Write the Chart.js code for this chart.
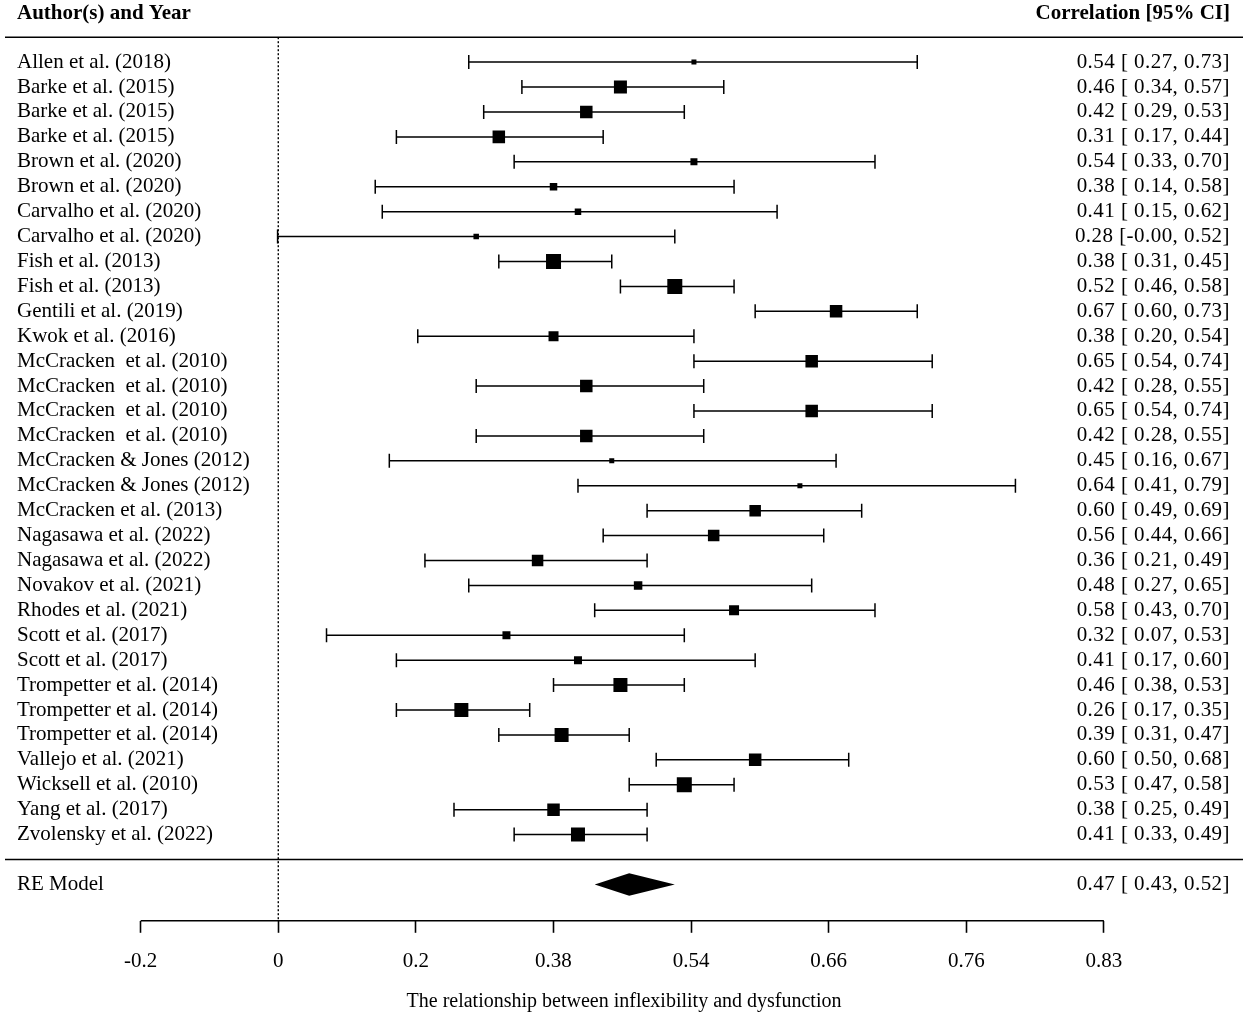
<!DOCTYPE html>
<html>
<head>
<meta charset="utf-8">
<script src="https://cdn.jsdelivr.net/npm/chart.js@4.4.1/dist/chart.umd.min.js"></script>
<style>
  html, body { margin: 0; padding: 0; background: #fff; }
  canvas { display: block; }
</style>
</head>
<body>
<canvas id="forest" width="1248" height="1016"></canvas>
<script>
// study labels, top to bottom
const studies = [
  'Allen et al. (2018)', 'Barke et al. (2015)', 'Barke et al. (2015)', 'Barke et al. (2015)',
  'Brown et al. (2020)', 'Brown et al. (2020)', 'Carvalho et al. (2020)', 'Carvalho et al. (2020)',
  'Fish et al. (2013)', 'Fish et al. (2013)', 'Gentili et al. (2019)', 'Kwok et al. (2016)',
  'McCracken  et al. (2010)', 'McCracken  et al. (2010)', 'McCracken  et al. (2010)', 'McCracken  et al. (2010)',
  'McCracken & Jones (2012)', 'McCracken & Jones (2012)', 'McCracken et al. (2013)', 'Nagasawa et al. (2022)',
  'Nagasawa et al. (2022)', 'Novakov et al. (2021)', 'Rhodes et al. (2021)', 'Scott et al. (2017)',
  'Scott et al. (2017)', 'Trompetter et al. (2014)', 'Trompetter et al. (2014)', 'Trompetter et al. (2014)',
  'Vallejo et al. (2021)', 'Wicksell et al. (2010)', 'Yang et al. (2017)', 'Zvolensky et al. (2022)'
];

// correlations and 95% CI
const estimates = [0.54, 0.46, 0.42, 0.31, 0.54, 0.38, 0.41, 0.28, 0.38, 0.52, 0.67, 0.38, 0.65, 0.42, 0.65, 0.42,
                   0.45, 0.64, 0.60, 0.56, 0.36, 0.48, 0.58, 0.32, 0.41, 0.46, 0.26, 0.39, 0.60, 0.53, 0.38, 0.41];
const ciLower   = [0.27, 0.34, 0.29, 0.17, 0.33, 0.14, 0.15, -0.001, 0.31, 0.46, 0.60, 0.20, 0.54, 0.28, 0.54, 0.28,
                   0.16, 0.41, 0.49, 0.44, 0.21, 0.27, 0.43, 0.07, 0.17, 0.38, 0.17, 0.31, 0.50, 0.47, 0.25, 0.33];
const ciUpper   = [0.73, 0.57, 0.53, 0.44, 0.70, 0.58, 0.62, 0.52, 0.45, 0.58, 0.73, 0.54, 0.74, 0.55, 0.74, 0.55,
                   0.67, 0.79, 0.69, 0.66, 0.49, 0.65, 0.70, 0.53, 0.60, 0.53, 0.35, 0.47, 0.68, 0.58, 0.49, 0.49];
// relative study weights (box size)
const weights   = [1.0, 2.6, 2.5, 2.5, 1.4, 1.5, 1.3, 1.1, 3.0, 3.0, 2.5, 2.0, 2.5, 2.5, 2.5, 2.5,
                   1.0, 1.0, 2.3, 2.3, 2.3, 1.7, 2.0, 1.6, 1.6, 2.8, 2.8, 2.8, 2.5, 3.0, 2.5, 2.8];

// pooled random-effects estimate
const pooledLabel = 'RE Model';
const pooled = [0.47, 0.43, 0.52];

// x axis: fisher z positions and back-transformed labels
const axisTicks = [-0.2, 0, 0.2, 0.4, 0.6, 0.8, 1.0, 1.2];
const axisLabels = ['-0.2', '0', '0.2', '0.38', '0.54', '0.66', '0.76', '0.83'];

const FONT = "'Liberation Serif', 'Times New Roman', serif";
Chart.defaults.font.family = FONT;
Chart.defaults.color = '#000';

const pooledRow = studies.length + 1;

function fmtCI(v) {
  const s = v.toFixed(2);
  return s.charAt(0) === '-' ? s : ' ' + s;
}
function ciText(est, lo, hi) {
  return est.toFixed(2) + ' [' + fmtCI(lo) + ', ' + hi.toFixed(2) + ']';
}

const forestPlugin = {
  id: 'forest',
  beforeDatasetsDraw(chart) {
    const { ctx, chartArea, scales: { x, y } } = chart;
    ctx.save();
    ctx.strokeStyle = '#000';
    ctx.fillStyle = '#000';

    // horizontal rules under header and above pooled row
    ctx.lineWidth = 1.6;
    [-1, studies.length].forEach(row => {
      const py = y.getPixelForValue(row);
      ctx.beginPath();
      ctx.moveTo(chartArea.left, py);
      ctx.lineTo(chartArea.right, py);
      ctx.stroke();
    });

    // dotted reference line at 0
    const x0 = x.getPixelForValue(0);
    ctx.lineWidth = 1.4;
    ctx.setLineDash([2, 2]);
    ctx.beginPath();
    ctx.moveTo(x0, y.getPixelForValue(-1));
    ctx.lineTo(x0, chartArea.bottom);
    ctx.stroke();
    ctx.setLineDash([]);

    // axis line only across tick range
    ctx.lineWidth = 1.6;
    ctx.beginPath();
    ctx.moveTo(x.getPixelForValue(axisTicks[0]), chartArea.bottom);
    ctx.lineTo(x.getPixelForValue(axisTicks[axisTicks.length - 1]), chartArea.bottom);
    ctx.stroke();

    // confidence intervals with end caps
    ctx.lineWidth = 1.5;
    studies.forEach((s, i) => {
      const py = y.getPixelForValue(i);
      const xl = x.getPixelForValue(Math.atanh(ciLower[i]));
      const xh = x.getPixelForValue(Math.atanh(ciUpper[i]));
      ctx.beginPath();
      ctx.moveTo(xl, py); ctx.lineTo(xh, py);
      ctx.moveTo(xl, py - 7); ctx.lineTo(xl, py + 7);
      ctx.moveTo(xh, py - 7); ctx.lineTo(xh, py + 7);
      ctx.stroke();
    });

    // pooled diamond
    const pr = y.getPixelForValue(pooledRow);
    const half = (y.getPixelForValue(pooledRow + 1) - pr) * 0.45;
    ctx.beginPath();
    ctx.moveTo(x.getPixelForValue(Math.atanh(pooled[1])), pr);
    ctx.lineTo(x.getPixelForValue(Math.atanh(pooled[0])), pr - half);
    ctx.lineTo(x.getPixelForValue(Math.atanh(pooled[2])), pr);
    ctx.lineTo(x.getPixelForValue(Math.atanh(pooled[0])), pr + half);
    ctx.closePath();
    ctx.fill();

    // text columns
    const leftX = chartArea.left + 12;
    const rightX = chartArea.right - 13;
    const headY = y.getPixelForValue(-1.95);
    ctx.textBaseline = 'middle';
    ctx.font = 'bold 21px ' + FONT;
    ctx.textAlign = 'left';
    ctx.fillText('Author(s) and Year', leftX, headY);
    ctx.textAlign = 'right';
    ctx.fillText('Correlation [95% CI]', rightX, headY);

    ctx.font = '21px ' + FONT;
    studies.forEach((s, i) => {
      const py = y.getPixelForValue(i);
      ctx.textAlign = 'left';
      ctx.letterSpacing = '0px';
      ctx.fillText(s, leftX, py);
      ctx.textAlign = 'right';
      ctx.letterSpacing = '0.45px';
      ctx.fillText(ciText(estimates[i], ciLower[i], ciUpper[i]), rightX, py);
    });
    ctx.textAlign = 'left';
    ctx.letterSpacing = '0px';
    ctx.fillText(pooledLabel, leftX, pr);
    ctx.textAlign = 'right';
    ctx.letterSpacing = '0.45px';
    ctx.fillText(ciText(pooled[0], pooled[1], pooled[2]), rightX, pr);

    ctx.restore();
  }
};

const points = estimates.map((r, i) => ({ x: Math.atanh(r), y: i }));

new Chart(document.getElementById('forest'), {
  type: 'scatter',
  data: {
    datasets: [{
      data: points,
      pointStyle: 'rect',
      pointRadius: weights.map(w => w * 5 / 1.414),
      pointHoverRadius: weights.map(w => w * 5 / 1.414),
      backgroundColor: '#000',
      borderWidth: 0
    }]
  },
  options: {
    responsive: false,
    animation: false,
    events: [],
    devicePixelRatio: 1,
    layout: { autoPadding: false, padding: { left: 5, right: 5, top: 0, bottom: 0 } },
    plugins: { legend: { display: false }, tooltip: { enabled: false } },
    scales: {
      x: {
        type: 'linear',
        min: -0.3972,
        max: 1.4022,
        afterBuildTicks: axis => { axis.ticks = axisTicks.map(v => ({ value: v })); },
        ticks: {
          autoSkip: false,
          maxRotation: 0,
          padding: 16,
          font: { size: 21 },
          callback: (v, i) => axisLabels[i]
        },
        grid: {
          drawOnChartArea: false,
          drawTicks: true,
          tickLength: 12,
          tickColor: '#000',
          tickWidth: 1.6
        },
        border: { display: false },
        title: {
          display: true,
          text: 'The relationship between inflexibility and dysfunction',
          font: { size: 20 },
          padding: { top: 0, bottom: 2 }
        }
      },
      y: {
        type: 'linear',
        display: false,
        reverse: true,
        min: -2.493,
        max: 34.46
      }
    }
  },
  plugins: [forestPlugin]
});
</script>
</body>
</html>
